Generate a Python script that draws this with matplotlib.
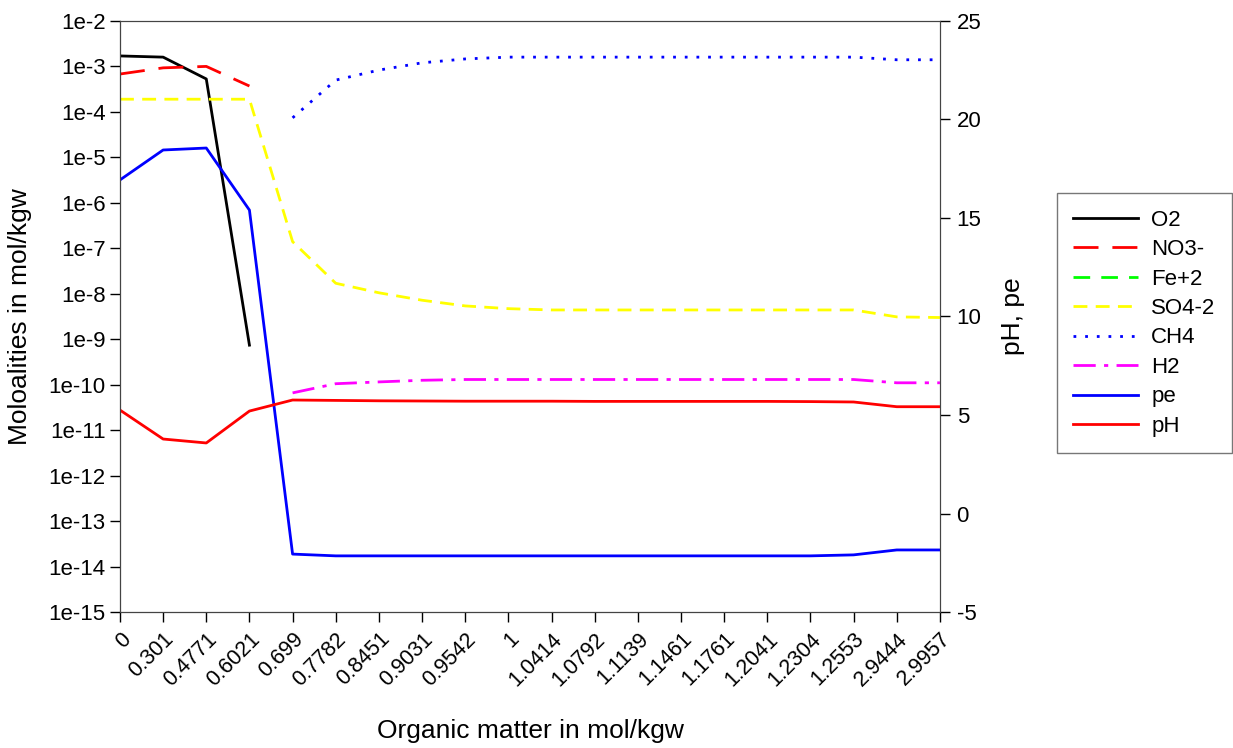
import numpy as np
import matplotlib.pyplot as plt
from matplotlib.ticker import FixedLocator, NullLocator

plt.rcParams['font.family'] = ['Liberation Sans', 'DejaVu Sans']
plt.rcParams['axes.unicode_minus'] = False

nan = np.nan

# x categories (organic matter, mol/kgw)
x_labels = ['0', '0.301', '0.4771', '0.6021', '0.699', '0.7782', '0.8451', '0.9031',
            '0.9542', '1', '1.0414', '1.0792', '1.1139', '1.1461', '1.1761', '1.2041',
            '1.2304', '1.2553', '2.9444', '2.9957']

# molalities (left axis, log)
o2 = [1.7e-3, 1.6e-3, 5.3e-4, 7.4e-10] + [nan] * 16
no3 = [6.8e-4, 9.3e-4, 1.0e-3, 3.7e-4] + [nan] * 16
fe2 = [nan] * 20
so4 = [1.9e-4, 1.9e-4, 1.9e-4, 1.9e-4, 1.4e-7, 1.7e-8, 1.05e-8, 7.2e-9, 5.4e-9, 4.7e-9,
       4.4e-9, 4.4e-9, 4.4e-9, 4.4e-9, 4.4e-9, 4.4e-9, 4.4e-9, 4.4e-9, 3.1e-9, 3.0e-9]
ch4 = [nan, nan, nan, nan, 7.4e-5, 5.0e-4, 8.3e-4, 1.2e-3, 1.46e-3, 1.6e-3,
       1.6e-3, 1.6e-3, 1.6e-3, 1.6e-3, 1.6e-3, 1.6e-3, 1.6e-3, 1.6e-3, 1.4e-3, 1.4e-3]
h2 = [nan, nan, nan, nan, 6.6e-11, 1.05e-10, 1.15e-10, 1.25e-10, 1.3e-10, 1.3e-10,
      1.3e-10, 1.3e-10, 1.3e-10, 1.3e-10, 1.3e-10, 1.3e-10, 1.3e-10, 1.3e-10, 1.1e-10, 1.1e-10]

# pe and pH (right axis)
pe = [16.93, 18.45, 18.55, 15.4, -2.06, -2.15, -2.15, -2.15, -2.15, -2.15,
      -2.15, -2.15, -2.15, -2.15, -2.15, -2.15, -2.15, -2.1, -1.85, -1.85]
ph = [5.25, 3.78, 3.58, 5.2, 5.76, 5.74, 5.72, 5.71, 5.70, 5.70,
      5.70, 5.69, 5.69, 5.69, 5.69, 5.69, 5.68, 5.66, 5.42, 5.42]

x = np.arange(len(x_labels))

fig = plt.figure(figsize=(12.33, 7.48), dpi=100)
ax = fig.add_axes([0.0973, 0.1818, 0.665, 0.7902])
ax2 = ax.twinx()

l1, = ax.plot(x, o2, color='black', lw=2, label='O2')
l2, = ax.plot(x, no3, color='#ff0000', lw=2, dashes=(9, 5), label='NO3-')
l3, = ax.plot(x, fe2, color='#00ff00', lw=2, dashes=(6, 4), label='Fe+2')
l4, = ax.plot(x, so4, color='#ffff00', lw=2, dashes=(5, 3), label='SO4-2')
l5, = ax.plot(x, ch4, color='#0000ff', lw=2, dashes=(1, 3.2), label='CH4')
l6, = ax.plot(x, h2, color='#ff00ff', lw=2, dashes=(8, 3, 1.5, 3), label='H2')
l7, = ax2.plot(x, pe, color='#0000ff', lw=2, label='pe')
l8, = ax2.plot(x, ph, color='#ff0000', lw=2, label='pH')

ax.set_yscale('log')
ax.set_ylim(1e-15, 1e-2)
decades = [10.0 ** k for k in range(-15, -1)]
ax.yaxis.set_major_locator(FixedLocator(decades))
ax.yaxis.set_minor_locator(NullLocator())
ax.set_yticklabels(['1e%d' % k for k in range(-15, -1)])
ax.set_xlim(0, len(x_labels) - 1)
ax.set_xticks(x)
ax.set_xticklabels(x_labels, rotation=45, ha='right', rotation_mode='anchor')

ax2.set_ylim(-5, 25)
ax2.set_yticks([-5, 0, 5, 10, 15, 20, 25])

for a in (ax, ax2):
    a.tick_params(direction='out', length=7, width=1, labelsize=16, colors='black')
    for s in a.spines.values():
        s.set_color('#444444')
ax.spines['left'].set_color('black')
ax.spines['bottom'].set_color('black')
ax.tick_params(axis='x', pad=5, labelsize=15.5)
ax2.tick_params(axis='y', pad=5)

ax.set_ylabel('Moloalities in mol/kgw', fontsize=19, labelpad=12)
ax2.set_ylabel('pH, pe', fontsize=19, labelpad=14)
ax.set_xlabel('Organic matter in mol/kgw', fontsize=19, labelpad=21)

handles = [l1, l2, l3, l4, l5, l6, l7, l8]
leg = fig.legend(handles, [h.get_label() for h in handles], loc='upper left',
                 bbox_to_anchor=(0.857, 0.742), borderaxespad=0, fontsize=16,
                 frameon=True, fancybox=False, edgecolor='#555555',
                 handlelength=2.9, labelspacing=0.38, borderpad=0.75,
                 handletextpad=0.6)

fig.savefig('out.png', dpi=100)
